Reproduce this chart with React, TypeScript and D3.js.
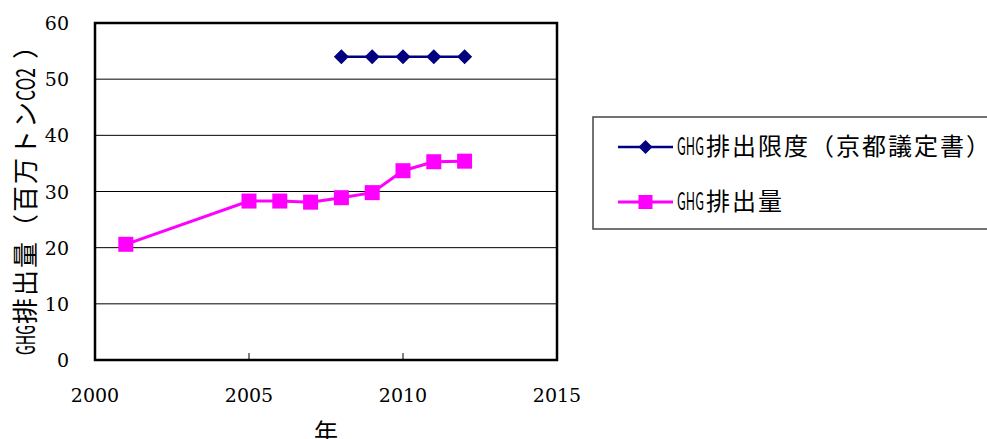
import React from "react";
import * as d3 from "d3";

// Emission limit under the Kyoto Protocol (million t-CO2)
const limitYears = [2008, 2009, 2010, 2011, 2012];
const limitValues = [54, 54, 54, 54, 54];

// Actual GHG emissions (million t-CO2)
const emissionYears = [2001, 2005, 2006, 2007, 2008, 2009, 2010, 2011, 2012];
const emissionValues = [20.6, 28.3, 28.3, 28.1, 28.9, 29.8, 33.7, 35.3, 35.4];

const xTicks = [2000, 2005, 2010, 2015];
const yTicks = [0, 10, 20, 30, 40, 50, 60];

const legendLabels = ["排出限度（京都議定書）", "排出量"];
const axisTitleY = ["GHG", "排出量（百万トン", "CO2", "）"];
const axisTitleX = "年";

const W = 987;
const H = 439;
const plot = { left: 95, right: 557, top: 23, bottom: 360 };

const NAVY = "#000080";
const MAGENTA = "#FF00FF";
const JP = "'Noto Sans CJK JP', 'Noto Sans', sans-serif";
const SERIF = "'DejaVu Serif', 'Liberation Serif', serif";

export default function App() {
  const x = d3.scaleLinear().domain([2000, 2015]).range([plot.left, plot.right]);
  const y = d3.scaleLinear().domain([0, 60]).range([plot.bottom, plot.top]);

  const limitPts: [number, number][] = limitYears.map((yr, i) => [x(yr), y(limitValues[i])]);
  const emisPts: [number, number][] = emissionYears.map((yr, i) => [x(yr), y(emissionValues[i])]);
  const line = d3.line<[number, number]>();

  const diamond = (cx: number, cy: number, r: number) =>
    `M${cx},${cy - r}L${cx + r},${cy}L${cx},${cy + r}L${cx - r},${cy}Z`;

  // Legend layout
  const lg = { x: 593, y: 117, h: 112, lineX0: 618, lineX1: 673, rows: [147, 202] };
  const pitch = 26;

  return (
    <div style={{ position: "fixed", left: 0, top: 0 }}>
      <svg width={W} height={H} style={{ display: "block", background: "#fff" }}>
        <rect x={0} y={0} width={W} height={H} fill="#fff" />

        {/* horizontal gridlines */}
        {yTicks
          .filter((t) => t > 0 && t < 60)
          .map((t) => (
            <line key={t} x1={plot.left} x2={plot.right} y1={y(t)} y2={y(t)} stroke="#000" strokeWidth={1} />
          ))}

        {/* x ticks (inside) */}
        {xTicks.map((t) => (
          <line key={t} x1={x(t)} x2={x(t)} y1={plot.bottom} y2={plot.bottom - 7} stroke="#000" strokeWidth={1} />
        ))}

        {/* plot frame */}
        <rect
          x={plot.left}
          y={plot.top}
          width={plot.right - plot.left}
          height={plot.bottom - plot.top}
          fill="none"
          stroke="#000"
          strokeWidth={2.5}
        />

        {/* y tick labels */}
        {yTicks.map((t) => (
          <text key={t} x={69} y={y(t) + 7} textAnchor="end" fontFamily={SERIF} fontSize={19} fill="#000">
            {t}
          </text>
        ))}

        {/* x tick labels */}
        {xTicks.map((t) => (
          <text key={t} x={x(t)} y={402} textAnchor="middle" fontFamily={SERIF} fontSize={19} fill="#000">
            {t}
          </text>
        ))}

        {/* x axis title */}
        <text x={(plot.left + plot.right) / 2} y={441} textAnchor="middle" fontFamily={JP} fontSize={24} fill="#000">
          {axisTitleX}
        </text>

        {/* y axis title, rotated; Latin runs are condensed */}
        <text transform="translate(35,355) rotate(-90)" fontFamily={JP} fontSize={26} fill="#000">
          <tspan x={0} textLength={30} lengthAdjust="spacingAndGlyphs">{axisTitleY[0]}</tspan>
          <tspan x={31} textLength={222} lengthAdjust="spacing">{axisTitleY[1]}</tspan>
          <tspan x={254} textLength={33} lengthAdjust="spacingAndGlyphs">{axisTitleY[2]}</tspan>
          <tspan x={296}>{axisTitleY[3]}</tspan>
        </text>

        {/* emission limit series */}
        <path d={line(limitPts) ?? ""} fill="none" stroke={NAVY} strokeWidth={2.5} />
        {limitPts.map(([cx, cy], i) => (
          <path key={i} d={diamond(cx, cy, 7.5)} fill={NAVY} />
        ))}

        {/* actual emissions series */}
        <path d={line(emisPts) ?? ""} fill="none" stroke={MAGENTA} strokeWidth={3} />
        {emisPts.map(([cx, cy], i) => (
          <rect key={i} x={cx - 7.5} y={cy - 7.5} width={15} height={15} fill={MAGENTA} />
        ))}

        {/* legend */}
        <rect x={lg.x} y={lg.y} width={420} height={lg.h} fill="#fff" stroke="#444" strokeWidth={1.5} />
        {legendLabels.map((lab, i) => {
          const ry = lg.rows[i];
          const cx = (lg.lineX0 + lg.lineX1) / 2;
          return (
            <g key={i}>
              <line
                x1={lg.lineX0}
                x2={lg.lineX1}
                y1={ry}
                y2={ry}
                stroke={i === 0 ? NAVY : MAGENTA}
                strokeWidth={i === 0 ? 2.5 : 3}
              />
              {i === 0 ? (
                <path d={diamond(cx, ry, 7)} fill={NAVY} />
              ) : (
                <rect x={cx - 7} y={ry - 7} width={14} height={14} fill={MAGENTA} />
              )}
              <text y={ry + 8} fontFamily={JP} fontSize={24} fill="#000">
                <tspan x={677} textLength={27} lengthAdjust="spacingAndGlyphs">GHG</tspan>
                <tspan x={706} textLength={lab.length * pitch - 2} lengthAdjust="spacing">{lab}</tspan>
              </text>
            </g>
          );
        })}
      </svg>
    </div>
  );
}
